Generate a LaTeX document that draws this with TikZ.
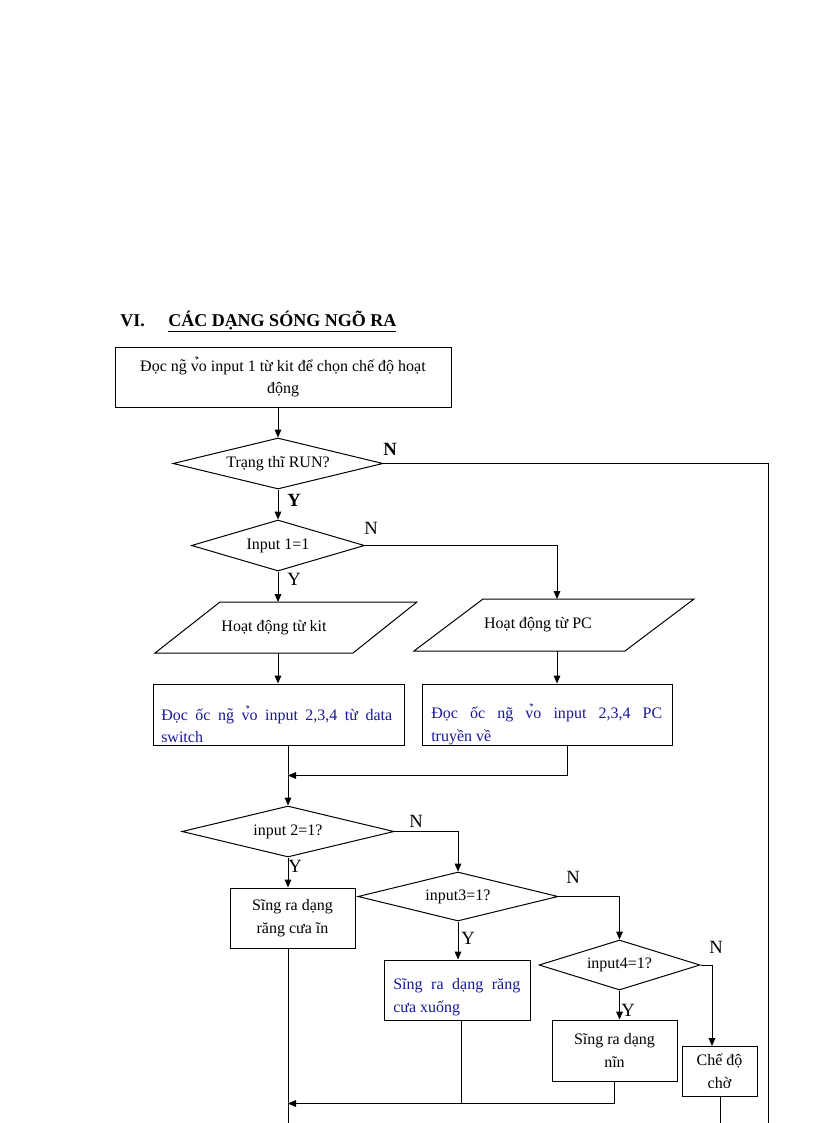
\documentclass[tikz,border=0pt]{standalone}
\usepackage{fontspec}
\setmainfont{Liberation Serif}
\usetikzlibrary{shapes.geometric,arrows.meta,calc}
\definecolor{txtblue}{RGB}{25,25,150}
\def\pxu{0.75pt}
\begin{document}
\begin{tikzpicture}[x=0.75pt,y=-0.75pt,
  every node/.style={font=\fontsize{12pt}{17pt}\selectfont, inner sep=0pt},
  line/.style={line width=0.75pt},
  arr/.style={line, -{Triangle[length=6pt,width=5pt]}},
  box/.style={draw, line width=0.75pt, rectangle, align=center},
  dia/.style={draw, line width=0.75pt, diamond, shape aspect=4},
  lab/.style={font=\fontsize{14pt}{16pt}\selectfont},
  labb/.style={font=\fontsize{14pt}{16pt}\selectfont\bfseries},
  ttl/.style={font=\fontsize{13.5pt}{16pt}\selectfont\bfseries, anchor=base west}
]
\fill[white] (0,0) rectangle (816,1123);
\useasboundingbox (0,0) rectangle (816,1123);

% title
\node[ttl] (tnum) at (120,326) {VI.};
\node[ttl] (ttext) at (168,326) {\underline{CÁC DẠNG SÓNG NGÕ RA}};

% boxes and decisions
\node[box, minimum width=336*\pxu, minimum height=60*\pxu] (b1) at (283,377)
  {Đọc ng̃ v̉o input 1 từ kit để chọn chế độ hoạt\\động};
\node[dia, minimum width=210*\pxu, minimum height=51*\pxu] (d1) at (278,463.5) {Trạng thĩ RUN?};
\node[dia, minimum width=173*\pxu, minimum height=51*\pxu] (d2) at (278,545.5) {Input 1=1};

\node (p1) at (274,627.5) {Hoạt động từ kit};
\draw[line] ($(p1)+(-54,-25.5)$) -- ($(p1)+(143,-25.5)$) -- ($(p1)+(79,25.5)$) -- ($(p1)+(-119,25.5)$) -- cycle;
\node (p2) at (538,625) {Hoạt động từ PC};
\draw[line] ($(p2)+(-55,-26)$) -- ($(p2)+(156,-26)$) -- ($(p2)+(87,26)$) -- ($(p2)+(-124,26)$) -- cycle;
\coordinate (p1top) at ($(p1)+(4,-25.5)$);
\coordinate (p1bot) at ($(p1)+(4,25.5)$);
\coordinate (p2top) at ($(p2)+(19,-26)$);
\coordinate (p2bot) at ($(p2)+(19,26)$);

\node[box, minimum width=251*\pxu, minimum height=61*\pxu] (b2) at (278.5,714.5) {};
\node[anchor=west, align=left, text=txtblue] (t2) at (161,724.5)
  {\makebox[173.25pt][s]{Đọc ốc ng̃ v̉o input 2,3,4 từ data}\\switch};
\node[box, minimum width=250*\pxu, minimum height=61*\pxu] (b3) at (547,714.5) {};
\node[anchor=west, align=left, text=txtblue] (t3) at (431,724.5)
  {\makebox[173.25pt][s]{Đọc ốc ng̃ v̉o input 2,3,4 PC}\\truyền về};

\node[dia, minimum width=212*\pxu, minimum height=51*\pxu] (d3) at (288,831.5) {input 2=1?};
\node[box, minimum width=125*\pxu, minimum height=60*\pxu] (b4) at (292.5,918) {Sĩng ra dạng\\răng cưa ĩn};
\node[dia, minimum width=200*\pxu, minimum height=49*\pxu] (d4) at (458,896.5) {input3=1?};
\node[box, minimum width=146*\pxu, minimum height=60*\pxu] (b5) at (457,990) {};
\node[anchor=west, align=left, text=txtblue] (t5) at (393,997)
  {\makebox[95.25pt][s]{Sĩng ra dạng răng}\\cưa xuống};
\node[dia, minimum width=161*\pxu, minimum height=50*\pxu] (d5) at (619.5,965) {input4=1?};
\node[box, minimum width=125*\pxu, minimum height=61*\pxu] (b6) at (614.5,1050.5) {Sĩng ra dạng\\nĩn};
\node[box, minimum width=75*\pxu, minimum height=50*\pxu] (b7) at (719.5,1071) {Chế độ\\chờ};

% helper coordinates
\coordinate (rbot) at (768,1123);
\coordinate (b3out) at (567,745);
\coordinate (m1) at (288,775.5);
\coordinate (m2) at (288,1103.5);
\coordinate (lbot) at (288,1123);
\coordinate (b5out) at (461,1020);
\coordinate (b6out) at (614,1081);
\coordinate (b7in) at (712,1046);
\coordinate (b7bot) at (720,1123);

% connectors
\draw[arr] (d1.north |- b1.south) -- (d1.north);
\draw[line] (d1.east) -| (rbot);
\draw[arr] (d1.south) -- (d2.north);
\draw[arr] (d2.east) -| (p2top);
\draw[arr] (d2.south) -- (p1top);
\draw[arr] (p1bot) -- (p1bot |- b2.north);
\draw[arr] (p2bot) -- (p2bot |- b3.north);
\draw[arr] (b3out) |- (m1);
\draw[arr] (d3.north |- b2.south) -- (d3.north);
\draw[arr] (d3.east) -| (d4.north);
\draw[arr] (d3.south) -- (d3.south |- b4.north);
\draw[line] (d3.south |- b4.south) -- (lbot);
\draw[arr] (d4.east) -| (d5.north);
\draw[arr] (d4.south) -- (d4.south |- b5.north);
\draw[arr] (d5.east) -| (b7in);
\draw[arr] (d5.south) -- (d5.south |- b6.north);
\draw[line] (b5out) -- (b5out |- m2);
\draw[arr] (b6out) |- (m2);
\draw[line] (b7.south -| b7bot) -- (b7bot);

% labels
\node[labb] (n1) at (390,449) {N};
\node[labb] (y1) at (294,500) {Y};
\node[lab] (n2) at (371,528) {N};
\node[lab] (y2) at (294,579) {Y};
\node[lab] (n3) at (416,821) {N};
\node[lab] (y3) at (295,866) {Y};
\node[lab] (n4) at (573,877) {N};
\node[lab] (y4) at (468,938) {Y};
\node[lab] (n5) at (716,947) {N};
\node[lab] (y5) at (628,1010) {Y};
\end{tikzpicture}
\end{document}
